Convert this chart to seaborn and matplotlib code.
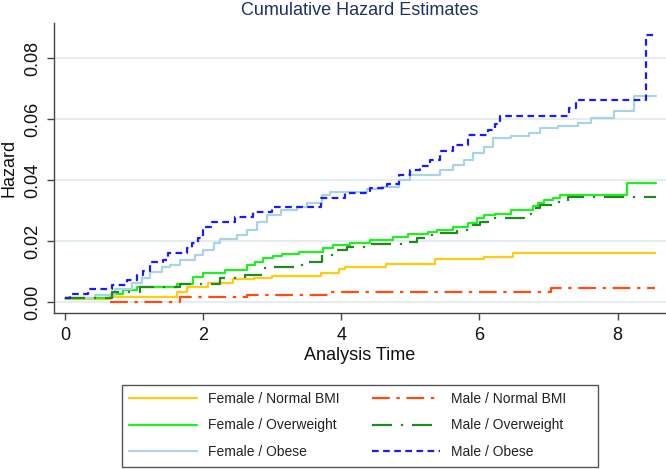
import numpy as np
import pandas as pd
import matplotlib
matplotlib.use("Agg")
import matplotlib.pyplot as plt
from matplotlib.lines import Line2D
from matplotlib.patches import Rectangle
from matplotlib.ticker import FormatStrFormatter
import seaborn as sns

# ---- data ----
fn_t = [0, 0.65, 1.62, 1.77, 2.07, 2.43, 2.73, 3.0, 3.7, 3.96, 4.06, 4.64, 5.36, 6.06, 6.48, 8.54]
fn_h = [0.0010, 0.0017, 0.0034, 0.0050, 0.0062, 0.0075, 0.0079, 0.0085, 0.0095, 0.0108, 0.0115,
        0.0125, 0.0140, 0.0149, 0.0160, 0.0160]

fow_t = [0, 0.68, 0.84, 1.04, 1.62, 1.85, 2.0, 2.32, 2.64, 2.75, 2.87, 3.01, 3.14, 3.38, 3.74, 3.88,
         4.13, 4.42, 4.75, 4.97, 5.25, 5.39, 5.62, 5.83, 5.97, 6.06, 6.23, 6.45, 6.78, 6.84, 6.93,
         7.06, 7.17, 8.14, 8.55]
fow_h = [0.0013, 0.0025, 0.0040, 0.0050, 0.0060, 0.0082, 0.0095, 0.0105, 0.0120, 0.0130, 0.0143,
         0.0150, 0.0157, 0.0164, 0.0177, 0.0187, 0.0193, 0.0203, 0.0213, 0.0223, 0.0230, 0.0236,
         0.0246, 0.0259, 0.0275, 0.0285, 0.0290, 0.0302, 0.0315, 0.0325, 0.0334, 0.0340, 0.0350,
         0.0390, 0.0390]

fo_t = [0, 0.43, 0.72, 0.97, 1.12, 1.23, 1.41, 1.52, 1.67, 1.88, 1.99, 2.15, 2.25, 2.49, 2.64, 2.78,
        2.93, 3.12, 3.36, 3.5, 3.72, 3.84, 4.37, 4.59, 4.83, 5.0, 5.43, 5.62, 5.77, 5.91, 6.06, 6.2,
        6.45, 6.71, 6.88, 7.13, 7.42, 7.61, 7.94, 8.23, 8.55]
fo_h = [0.0013, 0.0022, 0.0043, 0.0062, 0.0079, 0.0100, 0.0115, 0.0121, 0.0138, 0.0154, 0.0170,
        0.0193, 0.0207, 0.0220, 0.0236, 0.0262, 0.0285, 0.0302, 0.0312, 0.0325, 0.0350, 0.0362,
        0.0370, 0.0377, 0.0400, 0.0416, 0.0433, 0.0450, 0.0466, 0.0489, 0.0508, 0.0538, 0.0544,
        0.0554, 0.0570, 0.0577, 0.0587, 0.0603, 0.0626, 0.0675, 0.0675]

mn_t = [0.65, 1.67, 2.64, 3.8, 7.03, 8.54]
mn_h = [0.0000, 0.0017, 0.0023, 0.0034, 0.0046, 0.0046]

mow_t = [0, 0.68, 1.09, 1.67, 2.25, 2.6, 2.86, 2.97, 3.43, 3.72, 3.91, 4.08, 4.42, 4.93, 5.1, 5.25,
         5.43, 5.68, 5.91, 6.01, 6.16, 6.64, 6.81, 6.88, 7.06, 7.28, 8.55]
mow_h = [0.0013, 0.0034, 0.0049, 0.0060, 0.0078, 0.0090, 0.0110, 0.0115, 0.0130, 0.0154, 0.0170,
         0.0182, 0.0190, 0.0197, 0.0210, 0.0220, 0.0226, 0.0236, 0.0252, 0.0262, 0.0275, 0.0290,
         0.0308, 0.0318, 0.0328, 0.0345, 0.0345]

mo_t = [0, 0.07, 0.33, 0.68, 0.9, 1.04, 1.13, 1.23, 1.42, 1.49, 1.77, 1.84, 1.93, 1.99, 2.13, 2.46,
        2.72, 3.0, 3.7, 4.06, 4.42, 4.66, 4.83, 5.0, 5.14, 5.29, 5.43, 5.62, 5.84, 6.13, 6.22, 6.3,
        7.29, 7.39, 8.41, 8.53]
mo_h = [0.0013, 0.0026, 0.0043, 0.0056, 0.0072, 0.0089, 0.0102, 0.0130, 0.0138, 0.0160, 0.0177,
        0.0193, 0.0210, 0.0246, 0.0264, 0.0280, 0.0296, 0.0312, 0.0340, 0.0357, 0.0373, 0.0387,
        0.0416, 0.0433, 0.0446, 0.0466, 0.0495, 0.0515, 0.0548, 0.0564, 0.0585, 0.0610, 0.0636,
        0.0662, 0.0877, 0.0877]

labels = ["Female / Normal BMI", "Female / Overweight", "Female / Obese",
          "Male / Normal BMI", "Male / Overweight", "Male / Obese"]
x_ticks = [0, 2, 4, 6, 8]
y_ticks = [0.00, 0.02, 0.04, 0.06, 0.08]

series = [(fn_t, fn_h), (fow_t, fow_h), (fo_t, fo_h), (mn_t, mn_h), (mow_t, mow_h), (mo_t, mo_h)]
colors = ["#ffcc11", "#22ee22", "#a9d4e4", "#ff4a10", "#1f8a1f", "#1a1aff"]
styles = ["-", "-", "-", (0, (8, 3, 1.5, 3)), (0, (9, 4, 1, 4)), (0, (3, 2))]

# ---- plot ----
sns.set_style("white")
plt.rcParams["font.family"] = ["Liberation Sans", "DejaVu Sans"]

fig = plt.figure(figsize=(6.66, 4.69), dpi=100)
ax = fig.add_axes([54 / 666, 1 - 313 / 469, (666 - 54) / 666, (313 - 23) / 469])

for (t, h), c, ls, lab in zip(series, colors, styles, labels):
    df = pd.DataFrame({"t": t, "h": h})
    sns.lineplot(data=df, x="t", y="h", ax=ax, color=c, linestyle=ls, linewidth=1.6,
                 drawstyle="steps-post", estimator=None, sort=False, legend=False)

ax.set_xlim(-0.16, 8.7)
ax.set_ylim(-0.0036, 0.0915)
ax.set_xticks(x_ticks)
ax.set_yticks(y_ticks)
ax.yaxis.set_major_formatter(FormatStrFormatter("%.2f"))
ax.grid(axis="y", color="#e2edf0", linewidth=1.3)
ax.grid(axis="x", visible=False)
ax.set_axisbelow(True)
for s in ["top", "right"]:
    ax.spines[s].set_visible(False)
for s in ["left", "bottom"]:
    ax.spines[s].set_color("#444444")
    ax.spines[s].set_linewidth(1.0)

ax.tick_params(axis="both", which="major", length=5, width=1, color="#444444",
               labelsize=13, labelcolor="#111111", left=True, bottom=True)
ax.tick_params(axis="x", pad=5)
ax.tick_params(axis="y", pad=4)
for lab in ax.get_yticklabels():
    lab.set_rotation(90)
    lab.set_va("center")

ax.set_xlabel("Analysis Time", fontsize=13, color="#111111")
ax.set_ylabel("Hazard", fontsize=13, color="#111111")
ax.xaxis.set_label_coords(0.5, (313 - 347) / 290)
ax.yaxis.set_label_coords((18 - 54) / 612, 0.5)
ax.set_title("Cumulative Hazard Estimates", fontsize=13, color="#1f3264", pad=6)

handles = [Line2D([0], [0], color=c, linestyle=ls, linewidth=1.6) for c, ls in zip(colors, styles)]
leg = fig.legend(handles, labels, ncol=2, loc="upper left",
                 bbox_to_anchor=(122 / 666, 1 - 385 / 469), frameon=False,
                 fontsize=10, handlelength=4.9, handletextpad=0.8, columnspacing=2.3,
                 labelspacing=0.9, borderpad=0.5, borderaxespad=0)
for txt in leg.get_texts():
    txt.set_color("#222222")
fig.patches.append(Rectangle((122 / 666, 1 - 467 / 469), (598 - 122) / 666, (467 - 385) / 469,
                             transform=fig.transFigure, fill=False, edgecolor="#555555",
                             linewidth=1.0, figure=fig))

fig.savefig("out.png", dpi=100)
